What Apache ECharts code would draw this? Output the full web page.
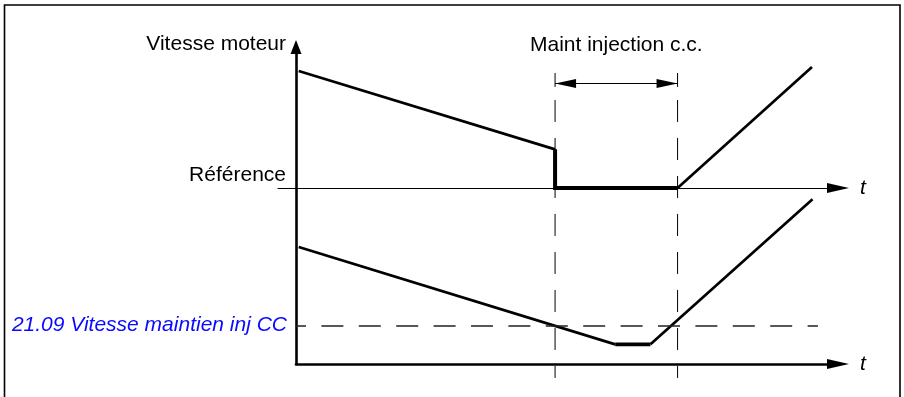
<!DOCTYPE html>
<html>
<head>
<meta charset="utf-8">
<script src="https://cdn.jsdelivr.net/npm/echarts@6/dist/echarts.min.js"></script>
<style>
  html, body { margin: 0; padding: 0; background: #fff; }
  #chart { width: 904px; height: 397px; }
</style>
</head>
<body>
<div id="chart"></div>
<script>
// Shared time scale (arbitrary units, 0–100) for both panels.
const injectionStart = 47.8;   // DC hold injection begins
const injectionEnd = 70.4;     // DC hold injection ends

// Upper panel: motor speed against the speed reference (0 = reference).
const upperDecel = [[0.5, 83.0], [47.8, 27.4]];
const upperHeld = [[47.8, 27.4], [47.8, 0], [70.4, 0]];
const upperRestart = [[70.4, 0], [95.2, 85.8]];

// Lower panel: motor speed against the DC hold speed setting.
const holdSpeed = 12.1;
const holdSpeedLineEnd = 96.3;
const lowerDecel = [[0.5, 36.9], [58.9, 6.2]];
const lowerHeld = [[58.9, 6.2], [65.4, 6.2]];
const lowerRestart = [[65.4, 6.2], [95.3, 52.0]];

// Texts
const speedAxisName = 'Vitesse moteur';
const referenceName = 'Référence';
const timeName = 't';
const injectionName = 'Maint injection c.c.';
const holdSpeedName = '21.09 Vitesse maintien inj CC';

// Layout (pixels)
const W = 904, H = 397;
const axisX = 296;        // vertical speed axis
const axisEndX = 838;     // end of the time axes (arrow centre)
const topY = 47;          // end of the speed axis (arrow centre)
const lowerAxisY = 364;   // lower time axis
const refY = 188;         // reference line
const refStartX = 278;    // reference line starts left of the speed axis

// Heights of the injection markers, in lower-panel speed units
const markerTop = 83.3, markerBottom = -4.4;
const tickTop = 91.8, tickBottom = 87.4;
const bracketLevel = 88.5;

const FONT = '"Liberation Sans", Arial, Helvetica, sans-serif';
const FS = 21;
const BLACK = '#000';
const CURVE_W = 2.7;

// Time value at the reference line's left end, so t = 0 sits on the speed axis.
const tRefMin = -(axisX - refStartX) * 100 / (axisEndX - axisX);

const hidden = { axisTick: { show: false }, axisLabel: { show: false }, splitLine: { show: false } };
const timeNameStyle = { color: BLACK, fontFamily: FONT, fontSize: FS, fontStyle: 'italic', verticalAlign: 'middle' };

function lineSeries(name, grid, data, width, dash) {
  return {
    name, type: 'line', xAxisIndex: grid, yAxisIndex: grid, data,
    symbol: 'none', silent: true, clip: false,
    lineStyle: { color: BLACK, width, join: 'miter', cap: 'butt', type: dash || 'solid' }
  };
}

// Arrow heads of the injection-time bracket
const arrowLen = 21;

const chart = echarts.init(document.getElementById('chart'), null, { renderer: 'canvas' });

chart.setOption({
  animation: false,
  backgroundColor: '#fff',
  grid: [
    { left: axisX, right: W - axisEndX, top: topY, bottom: H - lowerAxisY, containLabel: false },
    { left: refStartX, right: W - axisEndX, top: topY, bottom: H - refY, containLabel: false }
  ],
  xAxis: [
    Object.assign({
      gridIndex: 0, type: 'value', min: 0, max: 100,
      axisLine: { show: true, onZero: true, symbol: ['none', 'triangle'], symbolSize: [10, 22],
                  lineStyle: { color: BLACK, width: 2.6 } },
      name: timeName, nameLocation: 'end', nameGap: 22, nameTextStyle: timeNameStyle
    }, hidden),
    Object.assign({
      gridIndex: 1, type: 'value', min: tRefMin, max: 100,
      axisLine: { show: true, onZero: true, symbol: ['none', 'triangle'], symbolSize: [10, 22],
                  lineStyle: { color: BLACK, width: 1 } },
      name: timeName, nameLocation: 'end', nameGap: 22, nameTextStyle: timeNameStyle
    }, hidden)
  ],
  yAxis: [
    Object.assign({
      gridIndex: 0, type: 'value', min: 0, max: 100,
      axisLine: { show: true, onZero: false, symbol: ['none', 'triangle'], symbolSize: [11, 14],
                  lineStyle: { color: BLACK, width: 2.6 } },
      name: speedAxisName, nameLocation: 'end', nameGap: 3,
      nameTextStyle: { color: BLACK, fontFamily: FONT, fontSize: FS, align: 'right',
                       verticalAlign: 'middle', padding: [0, 10, 0, 0] }
    }, hidden),
    Object.assign({
      gridIndex: 1, type: 'value', min: 0, max: 100, offset: -(axisX - refStartX),
      axisLine: { show: false, onZero: false },
      name: referenceName, nameLocation: 'start', nameGap: 0,
      nameTextStyle: { color: BLACK, fontFamily: FONT, fontSize: FS, align: 'right',
                       verticalAlign: 'bottom', padding: [0, 10, 2, 0] }
    }, hidden)
  ],
  graphic: [{
    type: 'rect', silent: true, z: 100,
    shape: { x: 4.5, y: 5, width: 895.5, height: 400 },
    style: { fill: 'none', stroke: BLACK, lineWidth: 1.6 }
  }],
  series: [
    // upper panel
    lineSeries('Décélération', 1, upperDecel, CURVE_W),
    lineSeries('Maintien', 1, upperHeld, 4),
    lineSeries('Redémarrage', 1, upperRestart, CURVE_W),
    // lower panel, with the hold speed setting
    Object.assign(lineSeries('Décélération (vitesse)', 0, lowerDecel, CURVE_W), {
      markLine: {
        silent: true, symbol: 'none', animation: false,
        lineStyle: { color: '#222', width: 1.5, type: [22, 15.4], dashOffset: 12 },
        label: { show: true, position: 'start', distance: 9, formatter: holdSpeedName,
                 color: '#0a0aff', fontFamily: FONT, fontSize: FS, fontStyle: 'italic' },
        emphasis: { disabled: true },
        data: [[{ coord: [0, holdSpeed] }, { coord: [holdSpeedLineEnd, holdSpeed] }]]
      }
    }),
    lineSeries('Maintien (vitesse)', 0, lowerHeld, 3.6),
    lineSeries('Redémarrage (vitesse)', 0, lowerRestart, CURVE_W),
    // injection start / end markers running across both panels
    lineSeries('Début injection', 0, [[injectionStart, markerTop], [injectionStart, markerBottom]], 1, [22, 16]),
    lineSeries('Fin injection', 0, [[injectionEnd, markerTop], [injectionEnd, markerBottom]], 1, [22, 16]),
    lineSeries('Repère début', 0, [[injectionStart, tickTop], [injectionStart, tickBottom]], 1),
    lineSeries('Repère fin', 0, [[injectionEnd, tickTop], [injectionEnd, tickBottom]], 1),
    // injection duration bracket with its label
    {
      name: 'Durée injection', type: 'line', xAxisIndex: 0, yAxisIndex: 0, data: [], silent: true,
      markLine: {
        silent: true, animation: false, symbol: 'none',
        lineStyle: { color: BLACK, width: 1, type: 'solid' },
        label: { show: true, position: 'middle', distance: 28, formatter: injectionName,
                 color: BLACK, fontFamily: FONT, fontSize: FS },
        emphasis: { disabled: true },
        data: [[{ coord: [injectionStart, bracketLevel] }, { coord: [injectionEnd, bracketLevel] }]]
      }
    },
    {
      name: 'Flèches injection', type: 'scatter', xAxisIndex: 0, yAxisIndex: 0, silent: true, clip: false,
      symbol: 'triangle', symbolSize: [9, arrowLen],
      itemStyle: { color: BLACK, opacity: 1 },
      data: [
        { value: [injectionStart, bracketLevel], symbolRotate: 90, symbolOffset: [arrowLen / 2, 0] },
        { value: [injectionEnd, bracketLevel], symbolRotate: -90, symbolOffset: [-arrowLen / 2, 0] }
      ]
    }
  ]
});
</script>
</body>
</html>
